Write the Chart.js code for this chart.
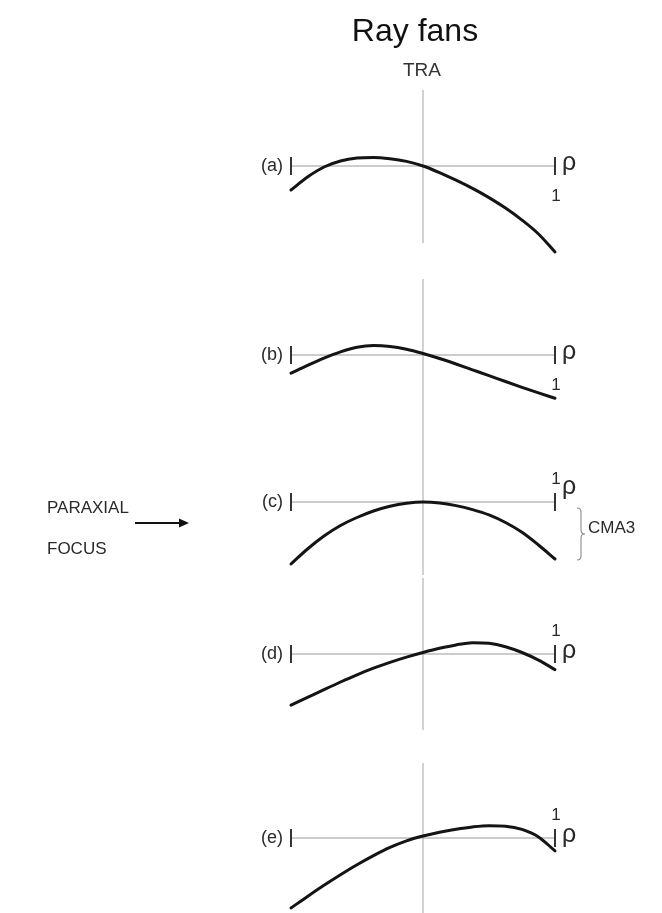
<!DOCTYPE html>
<html>
<head>
<meta charset="utf-8">
<title>Ray fans</title>
<script src="https://cdn.jsdelivr.net/npm/chart.js@4/dist/chart.umd.min.js"></script>
<style>
  html, body { margin: 0; padding: 0; background: #ffffff; }
  #fig { position: relative; width: 662px; height: 913px; overflow: hidden; background: #ffffff; }
  #fig canvas { position: absolute; left: 0; top: 0; }
</style>
</head>
<body>
<div id="fig"></div>
<script>
// Normalized pupil coordinate across the meridional fan
const rho = [-1, -0.875, -0.75, -0.625, -0.5, -0.375, -0.25, -0.125, 0,
             0.125, 0.25, 0.375, 0.5, 0.625, 0.75, 0.875, 1];

// Transverse ray aberration (arbitrary units) for five focus settings
const traA = [-24, -11, -1, 5, 8, 8.6, 7.3, 4.6, 0, -6.6, -14.2, -22.4, -31.6, -42.1, -54.1, -68, -86];
const traB = [-18.2, -10.4, -3.1, 3.2, 7.8, 9.5, 8.6, 5.8, 1.5, -3.5, -9, -14.8, -20.6, -26.5, -32.3, -37.9, -43.3];
const traC = [-62, -47, -34, -23.5, -15.5, -9, -4.3, -1.3, 0, -0.9, -3.6, -7.6, -12.9, -20.5, -30.3, -43, -57];
const traD = [-51.2, -43.4, -35.6, -28, -20.8, -14.2, -8.3, -3.1, 1.5, 5.7, 9.1, 11.3, 10.7, 7.3, 1.5, -6.1, -15.6];
const traE = [-70, -58.4, -47.3, -36.8, -26.8, -17.6, -9.4, -2.8, 2, 5.8, 8.8, 11.1, 12.3, 11.8, 8.6, 1.1, -12.9];

const fanNames = ['(a)', '(b)', '(c)', '(d)', '(e)'];
const fanSeries = [traA, traB, traC, traD, traE];

// Title and annotation text
const titleText = 'Ray fans';
const yAxisText = 'TRA';
const xAxisText = 'ρ';
const edgeText = '1';
const focusText = ['PARAXIAL', 'FOCUS'];
const comaText = 'CMA3';

// Panel frames on the page: vertical axis extent and zero line (px)
const W = 662, H = 913;
const frames = [
  { top: 90,  bottom: 243, zero: 166, oneAbove: false, rhoLift: 0 },
  { top: 279, bottom: 430, zero: 355, oneAbove: false, rhoLift: 0 },
  { top: 430, bottom: 575, zero: 502, oneAbove: true,  rhoLift: 12 },
  { top: 578, bottom: 730, zero: 654, oneAbove: true,  rhoLift: 0 },
  { top: 763, bottom: 913, zero: 838, oneAbove: true,  rhoLift: 0 }
];
const plotLeft = 291, plotRight = 555;
const FONT = '"Liberation Sans", Arial, Helvetica, sans-serif';

// Axes, end stops and labels of one fan
const fanFrame = {
  id: 'fanFrame',
  beforeDatasetsDraw(chart, args, opts) {
    const { ctx, chartArea } = chart;
    const xs = chart.scales.x, ys = chart.scales.y;
    const x0 = xs.getPixelForValue(0);
    const xl = xs.getPixelForValue(-1), xr = xs.getPixelForValue(1);
    const y0 = ys.getPixelForValue(0);
    ctx.save();
    // pupil axis
    ctx.strokeStyle = '#a4a4a4';
    ctx.lineWidth = 1;
    ctx.beginPath();
    ctx.moveTo(x0, chartArea.top);
    ctx.lineTo(x0, chartArea.bottom);
    ctx.stroke();
    ctx.strokeStyle = '#9a9a9a';
    ctx.lineWidth = 1.2;
    ctx.beginPath();
    ctx.moveTo(xl, y0);
    ctx.lineTo(xr, y0);
    ctx.stroke();
    // aperture edge stops
    ctx.strokeStyle = '#333333';
    ctx.lineWidth = 2;
    ctx.beginPath();
    ctx.moveTo(xl, y0 - 9); ctx.lineTo(xl, y0 + 9);
    ctx.moveTo(xr, y0 - 9); ctx.lineTo(xr, y0 + 9);
    ctx.stroke();
    // labels
    ctx.fillStyle = '#2a2a2a';
    ctx.font = '18px ' + FONT;
    ctx.textAlign = 'right';
    ctx.textBaseline = 'middle';
    ctx.fillText(opts.name, xl - 8, y0);
    ctx.textAlign = 'center';
    ctx.textBaseline = 'alphabetic';
    ctx.font = '17px ' + FONT;
    ctx.fillText(edgeText, xr + 1, opts.oneAbove ? y0 - 18 : y0 + 35);
    ctx.textAlign = 'left';
    ctx.font = '25px ' + FONT;
    ctx.fillText(xAxisText, xr + 7, y0 + 4 - opts.rhoLift);
    ctx.restore();
  }
};

// Page-level text: title, ordinate name, focus marker and coma brace
const figureNotes = {
  id: 'figureNotes',
  afterDraw(chart, args, opts) {
    const { ctx } = chart;
    ctx.save();
    if (opts.header) {
      ctx.fillStyle = '#111111';
      ctx.font = '32px ' + FONT;
      ctx.textAlign = 'center';
      ctx.textBaseline = 'middle';
      ctx.fillText(titleText, 415, 32);
      ctx.fillStyle = '#333333';
      ctx.font = '19px ' + FONT;
      ctx.fillText(yAxisText, 422, 71);
    }
    if (opts.focus) {
      const y0 = chart.scales.y.getPixelForValue(0);
      const xr = chart.scales.x.getPixelForValue(1);
      ctx.fillStyle = '#2a2a2a';
      ctx.font = '17px ' + FONT;
      ctx.textAlign = 'left';
      ctx.textBaseline = 'middle';
      ctx.fillText(focusText[0], 47, y0 + 6);
      ctx.fillText(focusText[1], 47, y0 + 47);
      // arrow toward the paraxial image plane
      ctx.strokeStyle = '#111111';
      ctx.fillStyle = '#111111';
      ctx.lineWidth = 2;
      ctx.beginPath();
      ctx.moveTo(135, y0 + 21);
      ctx.lineTo(181, y0 + 21);
      ctx.stroke();
      ctx.beginPath();
      ctx.moveTo(189, y0 + 21);
      ctx.lineTo(179, y0 + 16.5);
      ctx.lineTo(179, y0 + 25.5);
      ctx.closePath();
      ctx.fill();
      // brace spanning the sagittal coma
      const bx = xr + 22;
      const yt = y0 + 6, yb = y0 + 58, ym = (yt + yb) / 2;
      ctx.strokeStyle = '#8a8a8a';
      ctx.lineWidth = 1.1;
      ctx.beginPath();
      ctx.moveTo(bx, yt);
      ctx.quadraticCurveTo(bx + 4, yt, bx + 4, yt + 4);
      ctx.lineTo(bx + 4, ym - 4);
      ctx.quadraticCurveTo(bx + 4, ym, bx + 8, ym);
      ctx.quadraticCurveTo(bx + 4, ym, bx + 4, ym + 4);
      ctx.lineTo(bx + 4, yb - 4);
      ctx.quadraticCurveTo(bx + 4, yb, bx, yb);
      ctx.stroke();
      ctx.fillStyle = '#2a2a2a';
      ctx.textAlign = 'left';
      ctx.fillText(comaText, bx + 11, ym - 6);
    }
    ctx.restore();
  }
};

const fig = document.getElementById('fig');

fanSeries.forEach((series, i) => {
  const f = frames[i];
  const canvas = document.createElement('canvas');
  canvas.width = W;
  canvas.height = H;
  canvas.style.width = W + 'px';
  canvas.style.height = H + 'px';
  fig.appendChild(canvas);

  new Chart(canvas, {
    type: 'line',
    data: {
      datasets: [{
        label: fanNames[i],
        data: rho.map((r, k) => ({ x: r, y: series[k] })),
        borderColor: '#141414',
        borderWidth: 3,
        borderCapStyle: 'round',
        pointRadius: 0,
        cubicInterpolationMode: 'monotone',
        fill: false,
        clip: false
      }]
    },
    options: {
      responsive: false,
      animation: false,
      events: [],
      layout: {
        padding: { left: plotLeft, right: W - plotRight, top: f.top, bottom: H - f.bottom }
      },
      scales: {
        x: { type: 'linear', min: -1, max: 1, display: false },
        y: { type: 'linear', min: -(f.bottom - f.zero), max: f.zero - f.top, display: false }
      },
      plugins: {
        legend: { display: false },
        tooltip: { enabled: false },
        title: { display: false },
        fanFrame: { name: fanNames[i], oneAbove: f.oneAbove, rhoLift: f.rhoLift },
        figureNotes: { header: i === 0, focus: i === 2 }
      }
    },
    plugins: [fanFrame, figureNotes]
  });
});
</script>
</body>
</html>
